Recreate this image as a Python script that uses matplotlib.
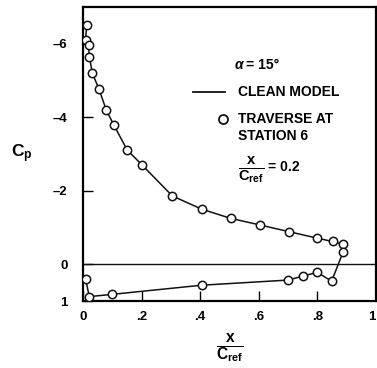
import numpy as np
import matplotlib
matplotlib.use('Agg')
import matplotlib.pyplot as plt

plt.rcParams['font.family'] = ['Liberation Sans', 'DejaVu Sans']
plt.rcParams['font.weight'] = 'bold'
plt.rcParams['mathtext.fontset'] = 'custom'
plt.rcParams['mathtext.rm'] = 'Liberation Sans:bold'
plt.rcParams['mathtext.bf'] = 'Liberation Sans:bold'
plt.rcParams['mathtext.it'] = 'Liberation Sans:bold'

# traverse at station 6: upper surface LE -> TE, then lower surface TE -> LE
x_c = [0.013, 0.009, 0.019, 0.022, 0.032, 0.054, 0.080, 0.106, 0.151, 0.202,
       0.305, 0.405, 0.504, 0.604, 0.702, 0.800, 0.852, 0.888, 0.888,
       0.849, 0.800, 0.752, 0.700, 0.405, 0.098, 0.0215, 0.009]
cp = [-6.52, -6.10, -5.96, -5.65, -5.20, -4.78, -4.19, -3.78, -3.11, -2.70,
      -1.86, -1.50, -1.25, -1.07, -0.89, -0.71, -0.62, -0.54, -0.33,
      0.46, 0.22, 0.32, 0.43, 0.57, 0.82, 0.88, 0.39]

xticks = [0, 0.2, 0.4, 0.6, 0.8, 1.0]
xtick_labels = ['0', '.2', '.4', '.6', '.8', '1']
yticks = [-6, -4, -2, 0, 1]
ytick_labels = ['\u20136', '\u20134', '\u20132', '0', '1']

fig = plt.figure(figsize=(3.77, 3.68), dpi=100)
ax = fig.add_axes([0.220, 0.182, 0.777, 0.799])

ax.plot(x_c, cp, color='#111111', lw=1.1, marker='o', ms=6,
        mfc='white', mec='#111111', mew=1.1, zorder=3)
ax.axhline(0, color='#111111', lw=1.0)

ax.set_xlim(0, 1)
ax.set_ylim(1, -7)
ax.set_xticks(xticks)
ax.set_xticklabels(xtick_labels, fontsize=9.5, fontweight='bold')
ax.get_xticklabels()[-1].set_horizontalalignment('right')
ax.set_yticks(yticks)
ax.set_yticklabels(ytick_labels, fontsize=9.5, fontweight='bold')
ax.tick_params(axis='y', direction='in', length=7, width=1.0, pad=11)
ax.tick_params(axis='x', direction='in', length=7, width=1.0, pad=7)
for s in ax.spines.values():
    s.set_linewidth(1.6)

ax.set_xlabel(r'$\mathbf{\frac{x}{C_{ref}}}$', fontsize=16, labelpad=6)
ax.text(-0.21, 0.50, r'$\mathbf{C_p}$', fontsize=12.5, transform=ax.transAxes,
        ha='center', va='center')

# legend block
ax.text(0.519, -5.43, '\u03b1', fontsize=10, style='italic', va='center', ha='left')
ax.text(0.555, -5.43, '= 15°', fontsize=10, va='center', ha='left')
ax.plot([0.375, 0.485], [-4.70, -4.70], color='#111111', lw=1.3)
ax.text(0.529, -4.70, 'CLEAN MODEL', fontsize=10, va='center', ha='left')
ax.plot([0.478], [-3.95], marker='o', ms=6.5, mfc='white', mec='#111111', mew=1.3)
ax.text(0.529, -3.95, 'TRAVERSE AT', fontsize=10, va='center', ha='left')
ax.text(0.529, -3.49, 'STATION 6', fontsize=10, va='center', ha='left')
ax.text(0.575, -2.58, r'$\mathbf{\frac{x}{C_{ref}}}$', fontsize=15, va='center', ha='center')
ax.text(0.632, -2.66, '= 0.2', fontsize=10, va='center', ha='left')

fig.savefig('out.png', dpi=100)
